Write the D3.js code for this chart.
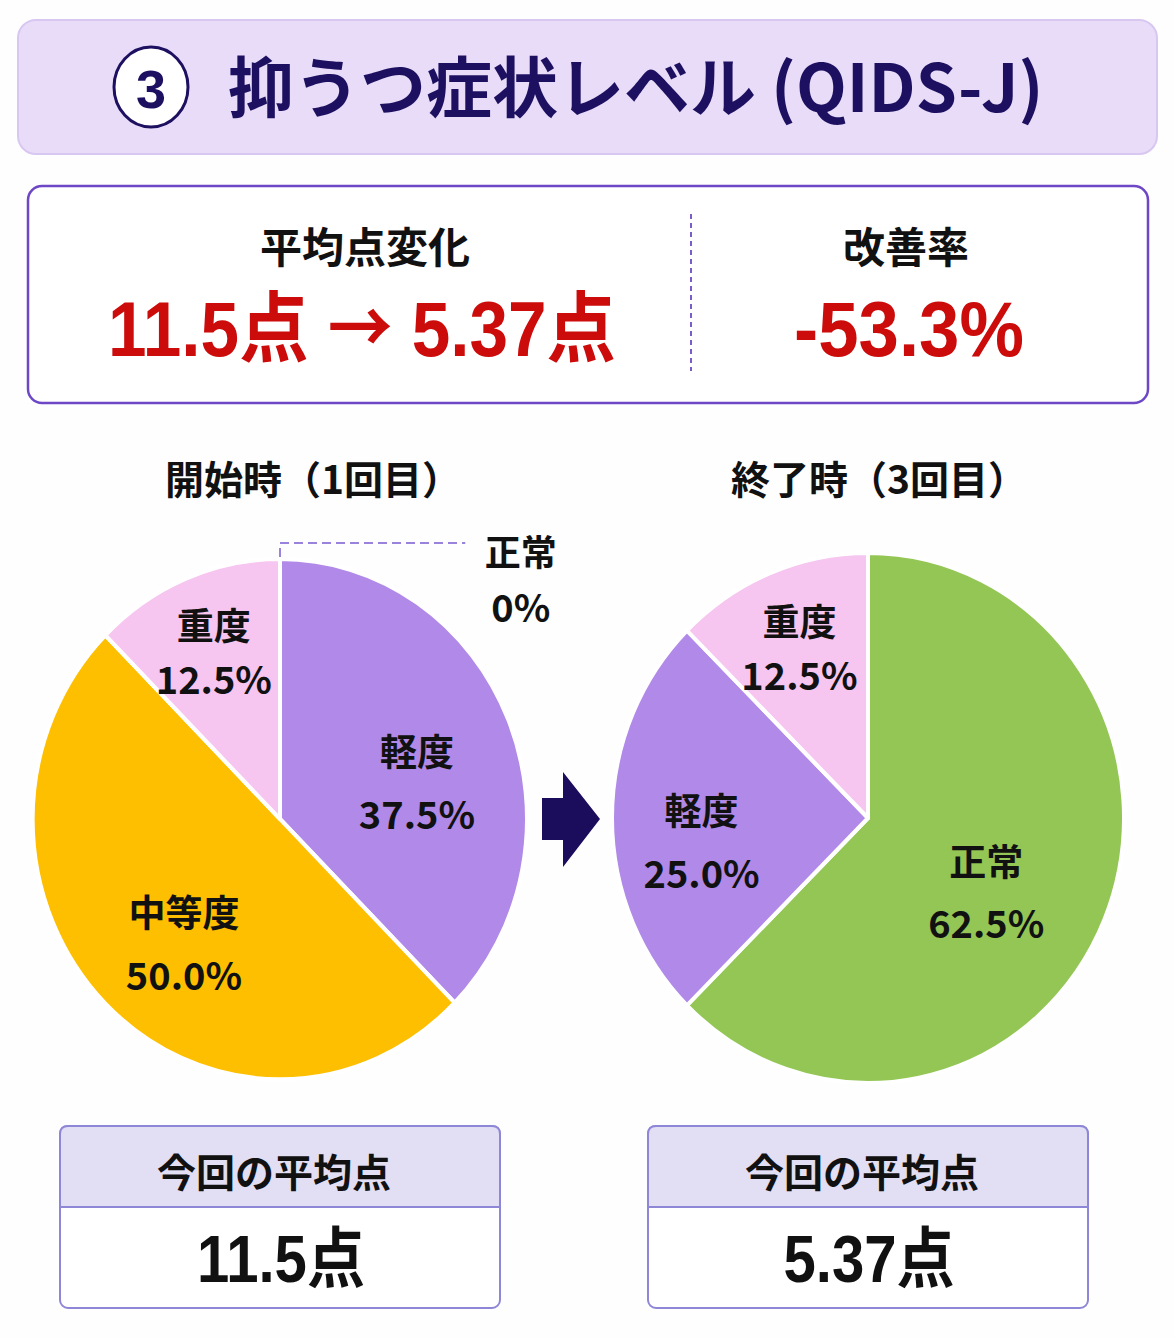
<!DOCTYPE html>
<html>
<head>
<meta charset="utf-8">
<script src="https://cdn.jsdelivr.net/npm/d3@7"></script>
<style>
  body { margin: 0; background: #fefefe; }
  svg text { font-family: "Noto Sans CJK JP", "Noto Sans", sans-serif; font-weight: 700; }
</style>
</head>
<body>
<svg id="drawing_region"></svg>
<script>
// data
const categories = ["正常", "軽度", "中等度", "重度"];
const startValues = [0, 37.5, 50.0, 12.5];
const endValues = [62.5, 25.0, 0, 12.5];
const sliceColors = ["#93c655", "#b189e8", "#fdbf00", "#f6c5f0"];
const pieTitles = ["開始時（1回目）", "終了時（3回目）"];
const avgScores = [11.5, 5.37];
const improvementRate = -53.3;
const headerTitle = "抑うつ症状レベル (QIDS-J)";

const W = 1175, H = 1339;
const NAVY = "#1d1060", RED = "#cc0b0b";
const NUM_FONT = "'Liberation Sans', 'Noto Sans CJK JP', sans-serif";

const svg = d3.select("#drawing_region")
  .attr("width", W)
  .attr("height", H);

const color = d3.scaleOrdinal().domain(categories).range(sliceColors);

// narrow-looking numbers: squeeze horizontally
function narrowText(x, y, size, fill, sx) {
  return svg.append("g")
    .attr("transform", `translate(${x},${y}) scale(${sx},1)`)
    .append("text")
    .attr("text-anchor", "middle")
    .attr("fill", fill)
    .style("font-size", size + "px")
    .style("font-family", NUM_FONT);
}

// --- header band
svg.append("rect")
  .attr("x", 18).attr("y", 20).attr("width", 1139).attr("height", 134)
  .attr("rx", 18)
  .attr("fill", "#e8dcf8").attr("stroke", "#d8c7f1").attr("stroke-width", 2);

svg.append("ellipse")
  .attr("cx", 151).attr("cy", 87).attr("rx", 37).attr("ry", 40)
  .attr("fill", "#fff").attr("stroke", NAVY).attr("stroke-width", 3);
svg.append("text")
  .attr("x", 151).attr("y", 89)
  .attr("text-anchor", "middle").attr("dominant-baseline", "central")
  .attr("fill", NAVY).style("font-size", "54px")
  .style("font-family", NUM_FONT)
  .text("3");

svg.append("text")
  .attr("x", 228).attr("y", 112)
  .attr("fill", NAVY).style("font-size", "66px")
  .text(headerTitle);

// --- summary box
svg.append("rect")
  .attr("x", 28).attr("y", 186).attr("width", 1120).attr("height", 217)
  .attr("rx", 14)
  .attr("fill", "#fff").attr("stroke", "#6d47c6").attr("stroke-width", 2.5);

svg.append("line")
  .attr("x1", 691).attr("x2", 691).attr("y1", 214).attr("y2", 371)
  .attr("stroke", "#7b5ccb").attr("stroke-width", 2).attr("stroke-dasharray", "5,4");

svg.append("text")
  .attr("x", 365).attr("y", 263).attr("text-anchor", "middle")
  .attr("fill", "#111").style("font-size", "42px")
  .text("平均点変化");
svg.append("text")
  .attr("x", 906).attr("y", 263).attr("text-anchor", "middle")
  .attr("fill", "#111").style("font-size", "42px")
  .text("改善率");

const bigNum = narrowText(362, 356, 77, RED, 0.9);
bigNum.append("tspan").text(avgScores[0] + "点 ");
bigNum.append("tspan").style("font-family", "'Noto Sans CJK JP', sans-serif")
  .style("font-size", "72px").attr("dy", -3).text("→");
bigNum.append("tspan").attr("dy", 3).text(" " + avgScores[1] + "点");

narrowText(909, 356, 78, RED, 0.93)
  .text(improvementRate.toFixed(1) + "%");

// --- pies
const pies = [
  { title: pieTitles[0], values: startValues, cx: 280, cy: 819, rx: 247, ry: 260, tx: 313 },
  { title: pieTitles[1], values: endValues, cx: 868, cy: 818, rx: 256, ry: 265, tx: 879 }
];

const pie = d3.pie().sort(null).value(d => d.value);

pies.forEach((p, pi) => {
  const data = categories.map((c, i) => ({ label: c, value: p.values[i] }));
  const arcs = pie(data);
  const sy = p.ry / p.rx;

  svg.append("text")
    .attr("x", p.tx).attr("y", 494).attr("text-anchor", "middle")
    .attr("fill", "#111").style("font-size", "39px")
    .text(p.title);

  const g = svg.append("g")
    .attr("transform", `translate(${p.cx},${p.cy}) scale(1,${sy})`);

  const arc = d3.arc().innerRadius(0).outerRadius(p.rx);

  g.selectAll("path")
    .data(arcs.filter(d => d.value > 0))
    .join("path")
    .attr("d", arc)
    .attr("fill", d => color(d.data.label))
    .attr("stroke", "#fff")
    .attr("stroke-width", 4)
    .attr("stroke-linejoin", "round");

  // labels inside slices
  const lab = svg.append("g").attr("transform", `translate(${p.cx},${p.cy})`);
  arcs.filter(d => d.value > 0).forEach(d => {
    const share = d.data.value;
    const lr = p.rx * (0.75 - share * 0.004);
    const la = d3.arc().innerRadius(lr).outerRadius(lr);
    const [x, y0] = la.centroid(d);
    const y = y0 * sy + (share > 20 ? 22 : 0);
    const gap = share > 20 ? 31 : 27;
    lab.append("text")
      .attr("x", x).attr("y", y - gap)
      .attr("text-anchor", "middle").attr("dominant-baseline", "central")
      .attr("fill", "#111").style("font-size", "37px")
      .text(d.data.label);
    lab.append("text")
      .attr("x", x).attr("y", y + gap)
      .attr("text-anchor", "middle").attr("dominant-baseline", "central")
      .attr("fill", "#111").style("font-size", "38px")
      .text(share.toFixed(1) + "%");
  });

  // zero slice at the top gets a callout
  arcs.filter(d => d.value === 0 && d.startAngle === 0).forEach(d => {
    const topY = -p.ry;
    lab.append("path")
      .attr("d", `M0,${topY - 2} V${topY - 16} H${p.rx * 0.75}`)
      .attr("fill", "none").attr("stroke", "#9a83dc")
      .attr("stroke-width", 2).attr("stroke-dasharray", "9,5");
    lab.append("text")
      .attr("x", p.rx * 0.975).attr("y", topY - 9)
      .attr("text-anchor", "middle").attr("dominant-baseline", "central")
      .attr("fill", "#111").style("font-size", "36px")
      .text(d.data.label);
    lab.append("text")
      .attr("x", p.rx * 0.975).attr("y", topY + 46)
      .attr("text-anchor", "middle").attr("dominant-baseline", "central")
      .attr("fill", "#111").style("font-size", "38px")
      .text(d.data.value + "%");
  });

  // score card below
  const bx = p.cx - 220, bw = 440;
  const card = svg.append("g");
  card.append("rect")
    .attr("x", bx).attr("y", 1126).attr("width", bw).attr("height", 182)
    .attr("rx", 8).attr("fill", "#fff")
    .attr("stroke", "#8e86d6").attr("stroke-width", 2);
  card.append("path")
    .attr("d", `M${bx},1207 V1134 Q${bx},1126 ${bx + 8},1126 H${bx + bw - 8} Q${bx + bw},1126 ${bx + bw},1134 V1207 Z`)
    .attr("fill", "#e2def4")
    .attr("stroke", "#8e86d6").attr("stroke-width", 2);
  card.append("text")
    .attr("x", p.cx - 6).attr("y", 1170)
    .attr("text-anchor", "middle").attr("dominant-baseline", "central")
    .attr("fill", "#111").style("font-size", "39px")
    .text("今回の平均点");
  narrowText(p.cx + 1, 1282, 66, "#111", 0.88)
    .text(avgScores[pi] + "点");
});

// arrow between the pies
svg.append("path")
  .attr("d", "M542,798 H563 V772 L600,819 L563,867 V840 H542 Z")
  .attr("fill", "#1c0c5c");
</script>
</body>
</html>
